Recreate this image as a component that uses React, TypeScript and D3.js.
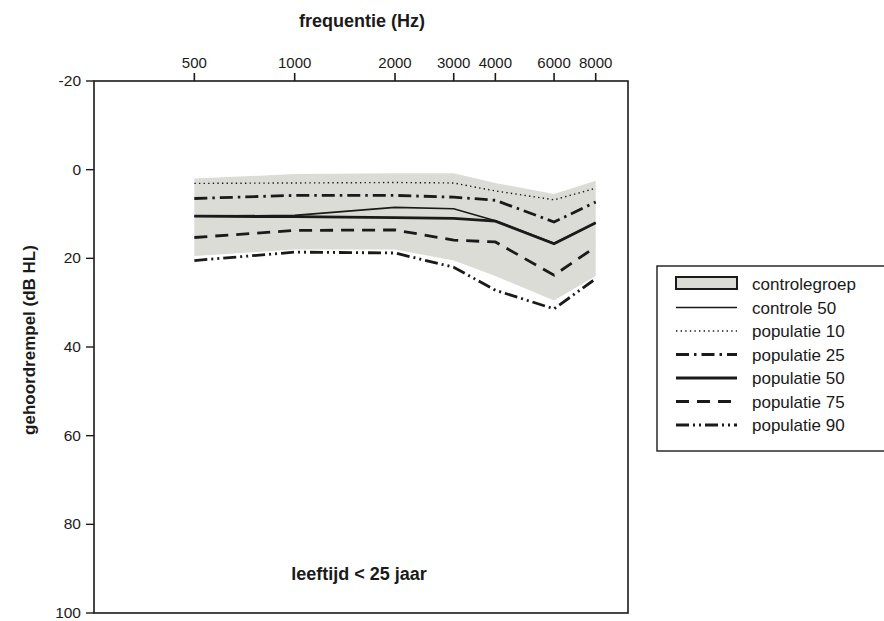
import React from "react";
import * as d3 from "d3";

const freqs = [500, 1000, 2000, 3000, 4000, 6000, 8000];
const freqLabels = ["500", "1000", "2000", "3000", "4000", "6000", "8000"];
const yTicks = [-20, 0, 20, 40, 60, 80, 100];

const bandTop = [2, 1, 0.8, 0.8, 3, 5.5, 2.5];
const bandBottom = [19.5, 18, 18, 20.5, 24, 29.5, 24];
const controle50 = [10.5, 10.3, 8.5, 8.8, 11.5, 16.6, 12];
const pop10 = [3.1, 3, 2.9, 3, 4.8, 6.8, 4.2];
const pop25 = [6.5, 5.8, 5.8, 6.2, 6.9, 11.8, 7.3];
const pop50 = [10.5, 10.6, 10.8, 11, 11.6, 16.7, 12];
const pop75 = [15.3, 13.7, 13.6, 15.9, 16.3, 23.8, 17.4];
const pop90 = [20.5, 18.6, 18.8, 22, 27.2, 31.4, 24.6];

const legendLabels = [
  "controlegroep",
  "controle 50",
  "populatie 10",
  "populatie 25",
  "populatie 50",
  "populatie 75",
  "populatie 90",
];

const INK = "#1a1a1a";
const FONT = "'Liberation Sans', Arial, Helvetica, sans-serif";

type Style = { w: number; dash?: string };
const styles: Style[] = [
  { w: 1.6 },
  { w: 1.4, dash: "1.4 3.2" },
  { w: 2.8, dash: "13 5 2.5 5" },
  { w: 2.8 },
  { w: 2.8, dash: "13 8" },
  { w: 2.8, dash: "13 4 2 4 2 4" },
];
const series = [controle50, pop10, pop25, pop50, pop75, pop90];

export default function App() {
  const x = d3.scaleLog().domain([250, 10000]).range([94, 628]);
  const y = d3.scaleLinear().domain([-20, 100]).range([81, 613]);

  const area = d3
    .area<number>()
    .x((_, i) => x(freqs[i]))
    .y0((_, i) => y(bandBottom[i]))
    .y1((d) => y(d));
  const line = d3
    .line<number>()
    .x((_, i) => x(freqs[i]))
    .y((d) => y(d));

  const lx = 657;
  const ly = 266;
  const rowY = (i: number) => 289 + i * 23.5;

  return (
    <svg
      width={884}
      height={621}
      style={{ position: "absolute", left: 0, top: 0, background: "#fff" }}
      fontFamily={FONT}
    >
      <rect x={0} y={0} width={884} height={621} fill="#fff" />
      <path d={area(bandTop) || ""} fill="#dcdcd6" stroke="none" />
      {series.map((s, i) => (
        <path
          key={i}
          d={line(s) || ""}
          fill="none"
          stroke={INK}
          strokeWidth={styles[i].w}
          strokeDasharray={styles[i].dash}
          strokeLinejoin="miter"
        />
      ))}
      <rect
        x={x(250)}
        y={y(-20)}
        width={x(10000) - x(250)}
        height={y(100) - y(-20)}
        fill="none"
        stroke={INK}
        strokeWidth={1.6}
      />
      {freqs.map((f, i) => (
        <g key={f}>
          <line x1={x(f)} x2={x(f)} y1={y(-20)} y2={y(-20) - 8} stroke={INK} strokeWidth={1.6} />
          <text x={x(f)} y={68} textAnchor="middle" fontSize={15} fill={INK}>
            {freqLabels[i]}
          </text>
        </g>
      ))}
      {yTicks.map((t) => (
        <g key={t}>
          <line x1={x(250) - 8} x2={x(250)} y1={y(t)} y2={y(t)} stroke={INK} strokeWidth={1.4} />
          <text x={81} y={y(t) + 5} textAnchor="end" fontSize={15.5} fill={INK}>
            {t}
          </text>
        </g>
      ))}
      <text x={362} y={27} textAnchor="middle" fontSize={18} fontWeight="bold" fill={INK}>
        frequentie (Hz)
      </text>
      <text
        transform={`translate(35,340) rotate(-90)`}
        textAnchor="middle"
        fontSize={17}
        fontWeight="bold"
        fill={INK}
      >
        gehoordrempel (dB HL)
      </text>
      <text x={359} y={580} textAnchor="middle" fontSize={18} fontWeight="bold" fill={INK}>
        leeftijd &lt; 25 jaar
      </text>
      <rect x={lx} y={ly} width={240} height={185} fill="#fff" stroke={INK} strokeWidth={1.4} />
      <rect x={676} y={rowY(0) - 12} width={61} height={12} fill="#dcdcd6" stroke={INK} strokeWidth={2} />
      {styles.map((s, i) => (
        <line
          key={i}
          x1={676}
          x2={737}
          y1={rowY(i + 1) - 5}
          y2={rowY(i + 1) - 5}
          stroke={INK}
          strokeWidth={s.w}
          strokeDasharray={s.dash}
        />
      ))}
      {legendLabels.map((l, i) => (
        <text key={l} x={752} y={rowY(i) + 1} fontSize={17} fill={INK}>
          {l}
        </text>
      ))}
    </svg>
  );
}
